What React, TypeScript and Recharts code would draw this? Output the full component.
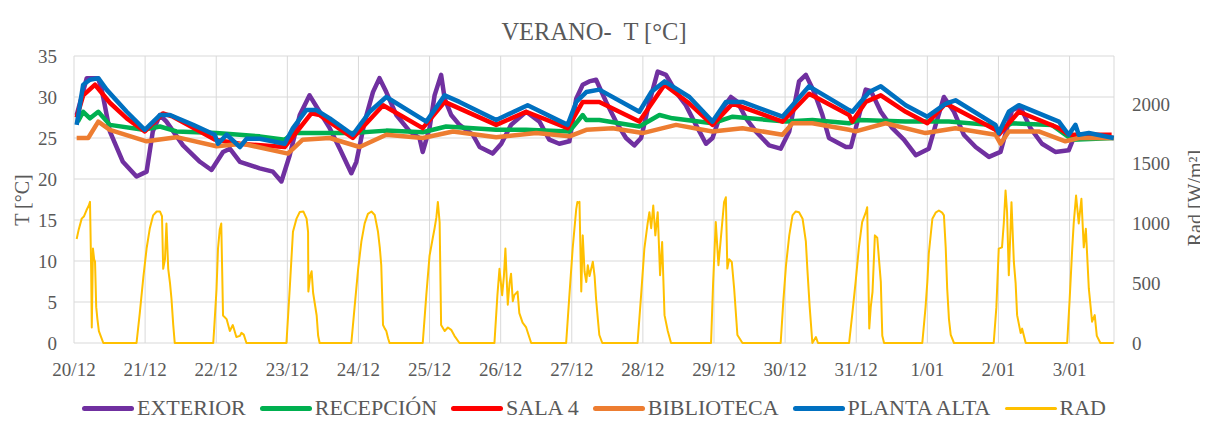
import React from 'react';
import { LineChart, Line, XAxis, YAxis, CartesianGrid } from 'recharts';

// hours since 20/12 00:00 -> value
const dayTicks = [0, 24, 48, 72, 96, 120, 144, 168, 192, 216, 240, 264, 288, 312, 336];
const dayLabels = ['20/12', '21/12', '22/12', '23/12', '24/12', '25/12', '26/12', '27/12', '28/12', '29/12', '30/12', '31/12', '1/01', '2/01', '3/01'];
const tempTicks = [0, 5, 10, 15, 20, 25, 30, 35];
const radTicks = [0, 500, 1000, 1500, 2000];

const exterior: [number, number][] = [
  [0.9, 27.8], [4.3, 32.3], [8.1, 32.3], [9.3, 31], [12.1, 25.8], [16.5, 22.1], [21.1, 20.3], [24.5, 20.9],
  [26.6, 25.8], [29, 27.8], [31.2, 27], [36.8, 24.1], [42.5, 22.1], [46.4, 21.1], [50.3, 23.3], [52.6, 23.7],
  [56, 22.1], [62.7, 21.3], [67.1, 20.9], [70, 19.7], [72.8, 22.9], [76.2, 27.8], [79.5, 30.2], [82.9, 28.2],
  [86.3, 26.2], [89.7, 23.7], [93.6, 20.7], [95.3, 22.1], [98.1, 27], [100.9, 30.6], [103.1, 32.3], [105.4, 30.6],
  [108.8, 27.8], [113.3, 25.8], [116.6, 25], [117.7, 23.3], [120, 26.2], [121.7, 30.2], [123.9, 32.7], [125.1, 29.8],
  [127.3, 27.8], [130.1, 26.6], [134.6, 25.4], [136.9, 23.9], [141.3, 23.1], [144.2, 24.3], [147.5, 26.6], [152.6, 28.2],
  [157.1, 27], [160.4, 24.8], [163.8, 24.3], [167.2, 24.6], [169.5, 29.8], [171.7, 31.5], [173.9, 31.9], [176.2, 32.1],
  [179.6, 29.4], [182.9, 27], [186.3, 25], [189.1, 24.1], [191.4, 25], [194.2, 29.4], [197, 33.1], [199.8, 32.7],
  [203.2, 30.6], [206.5, 29], [209.9, 26.6], [213.3, 24.3], [215.5, 25], [218.9, 28.6], [221.7, 30], [223.9, 29.4],
  [226.8, 27.4], [230.1, 25.8], [234.6, 24.1], [238.5, 23.7], [241.4, 25.8], [244.7, 31.9], [247, 32.7], [249.8, 30.6],
  [252.6, 27.8], [254.8, 25], [260.5, 23.9], [262.2, 23.9], [265, 27.8], [267.2, 30.9], [269, 30.7], [272.3, 28.2],
  [276.2, 26.2], [280.1, 24.8], [284.1, 22.9], [288.5, 23.7], [290.8, 26.6], [293.6, 30], [297, 28.2], [300.3, 25.4],
  [304.3, 23.9], [308.8, 22.7], [312.7, 23.3], [314.9, 26.2], [316.6, 28.4], [319.4, 28.8], [322.8, 26.2], [326.7, 24.3],
  [331.2, 23.3], [335.7, 23.5], [337.4, 25], [342.5, 25.3], [350.9, 25],
];

const recepcion: [number, number][] = [
  [1.3, 27], [3.1, 28.2], [5.4, 27.4], [8.2, 28.2], [12.1, 26.6], [23.4, 26], [29, 26.4], [34.6, 25.8],
  [48.1, 25.6], [62.7, 25.2], [71.1, 24.8], [73.9, 25.6], [82.9, 25.6], [94.1, 25.6], [105.4, 25.9], [117.7, 25.7],
  [125.6, 26.4], [142.5, 26], [152.6, 26], [167.2, 25.8], [171.7, 27.8], [172.9, 27.2], [177.3, 27.2], [190.8, 26.4],
  [197.6, 27.8], [202, 27.4], [215.5, 26.8], [222.3, 27.6], [240.3, 27], [249.2, 27.2], [261.6, 26.8], [265, 27.2],
  [280.7, 27], [295.3, 27], [308.8, 26.6], [312.1, 26], [316.6, 26.8], [330, 26.6], [336.9, 24.8], [350.9, 25],
];

const sala4: [number, number][] = [
  [0.9, 27.5], [3.1, 30.2], [7.1, 31.5], [12.1, 29.3], [17.8, 27.4], [23.9, 25.8], [30, 28], [33.4, 27.6],
  [47.5, 24.8], [56, 24.3], [71.1, 23.9], [80.1, 28], [82.9, 27.8], [94.1, 25], [104.3, 29], [117.7, 26.2],
  [125.1, 29.4], [142.5, 26.6], [152.6, 28.2], [166.6, 26.2], [171.7, 29.4], [177.3, 29.4], [190.8, 27], [199.3, 31.5],
  [207.7, 29.2], [215.5, 26.6], [222.3, 29.2], [239.1, 27], [248.1, 30.4], [261.6, 27.8], [262.7, 27], [267.2, 29.4],
  [272.3, 30.2], [280.7, 28.2], [288, 26.8], [294.2, 29.2], [311, 26], [312.1, 25.4], [318.9, 28.2], [332.4, 26.2],
  [335.7, 25.4], [350.2, 25.4],
];

const biblioteca: [number, number][] = [
  [0.9, 25], [4.8, 25], [8.2, 27], [12.1, 26], [24.5, 24.6], [34.6, 25.1], [48.1, 24], [57, 24.3],
  [72.2, 23.1], [77.2, 24.8], [86.3, 25], [96.4, 23.9], [105.4, 25.4], [117.7, 25], [127.9, 25.8], [142.5, 25.1],
  [156, 25.6], [167.2, 25.2], [172.9, 26], [181.8, 26.2], [191.9, 25.6], [203.2, 26.6], [215.5, 25.8], [225.6, 26.2],
  [239.1, 25.4], [242.5, 26.8], [249.2, 26.8], [261.6, 26], [263.8, 25.8], [273.9, 26.8], [287.4, 25.6], [297.5, 26.2],
  [311, 25.4], [312.7, 24.3], [315.5, 25.8], [325.6, 25.8], [334.6, 24.6], [339.1, 25], [350.9, 25],
];

const plantaAlta: [number, number][] = [
  [0.9, 26.6], [3.1, 31.5], [5.4, 32.1], [8.2, 32.3], [11, 30.9], [17.8, 28.2], [23.9, 26], [29, 27.8],
  [32.4, 27.8], [40.2, 26.6], [47.5, 25.4], [48.6, 24.3], [51.5, 25.4], [56, 23.9], [58.2, 24.9], [62.7, 24.9],
  [71.1, 24.3], [73.9, 26.2], [78.4, 28.4], [81.8, 28.4], [86.3, 27.4], [94.1, 25.4], [99.8, 28.2], [105.4, 30],
  [118.9, 27], [125.1, 30.2], [130.1, 29.4], [142.5, 27.2], [153.1, 29], [166.6, 26.6], [169.5, 29.4], [172.9, 30.6],
  [177.3, 30.9], [190.8, 28.2], [194.8, 30.6], [199.3, 31.9], [207.7, 30], [215.5, 27], [220, 29.4], [225.6, 29.4],
  [239.1, 27.6], [248.1, 31.3], [261.6, 28.4], [262.7, 28.2], [268.4, 30.6], [272.3, 31.3], [280.7, 29], [288, 27.6],
  [294.2, 29.2], [297.5, 29.6], [311, 26.6], [312.1, 25.6], [315.5, 28.2], [318.9, 29], [332.4, 27], [335.7, 25.4],
  [338, 26.6], [339.1, 25.4], [342.5, 25.6], [350.9, 25],
];

const rad: [number, number][] = [
  [0.9, 870], [1.6, 950], [2.6, 1040], [3.4, 1060], [4.2, 1110], [5, 1150], [5.4, 1180], [5.8, 600], [6, 130],
  [6.4, 790], [6.8, 700], [7.1, 680], [7.5, 300], [7.9, 200], [8.4, 100], [9, 60], [9.9, 0],
  [21.1, 0], [22.2, 250], [23.4, 550], [24.5, 790], [25.6, 960], [26.7, 1067], [27.9, 1100], [29, 1100], [29.7, 1060],
  [30.1, 620], [30.7, 700], [31.2, 1000], [31.8, 620], [32.4, 500], [32.9, 370], [33.5, 150], [34, 0],
  [47, 0], [47.5, 200], [48.1, 450], [48.6, 790], [49.2, 950], [49.7, 1000], [50.3, 230], [51.5, 200], [52.6, 100],
  [53.6, 150], [54.8, 50], [56, 60], [56.5, 85], [57.3, 70], [58.2, 0],
  [71.7, 0], [72.8, 450], [73.9, 930], [75.1, 1040], [76.2, 1095], [77.4, 1100], [78.5, 1040], [79, 930], [79.1, 430],
  [79.7, 560], [80.2, 600], [80.7, 420], [81.9, 230], [82.4, 60], [82.9, 0],
  [93.6, 0], [94.7, 300], [95.9, 620], [97, 850], [98.1, 1000], [99.2, 1080], [100.4, 1100], [101.5, 1070], [102.6, 930],
  [103.2, 800], [103.7, 650], [104.3, 150], [104.9, 120], [105.4, 100], [106, 40], [106.5, 0],
  [117.7, 0], [118.9, 400], [120, 730], [121.1, 880], [121.7, 960], [122.3, 1050], [122.8, 1180], [123.4, 1010], [123.9, 150],
  [125.1, 100], [126.2, 130], [127.3, 110], [128.4, 60], [130.1, 0],
  [141.9, 0], [142.9, 400], [143.6, 620], [144.5, 400], [145.1, 560], [145.6, 790], [146.4, 320], [147, 500], [147.5, 580],
  [148.1, 350], [148.6, 400], [149.7, 430], [150.3, 250], [151.4, 170], [152.6, 130], [154.3, 0],
  [166.1, 0], [167.2, 400], [168.3, 790], [169.5, 1120], [169.9, 1180], [170.4, 1170], [170.6, 1180], [171.2, 430],
  [171.7, 900], [172.3, 600], [172.9, 510], [173.4, 650], [174, 560], [175.1, 680], [175.7, 560], [176.2, 370],
  [176.8, 200], [177.3, 67], [178.3, 0],
  [190.2, 0], [191.4, 400], [192.5, 790], [193.6, 1000], [194.2, 1094], [194.8, 960], [195.5, 1150], [196.2, 900],
  [197, 1094], [197.8, 567], [198.5, 844], [199.3, 233], [200.4, 100], [201.5, 0],
  [215, 0], [215.7, 500], [216.6, 1011], [217.5, 650], [218.6, 956], [219.4, 1178], [220, 1219], [220.5, 622],
  [221.1, 700], [222, 678], [222.8, 456], [223.9, 67], [225.6, 0],
  [238.5, 0], [239.4, 350], [240.3, 650], [241.4, 900], [242.5, 1067], [243.6, 1100], [244.7, 1094], [245.9, 1039],
  [247, 850], [247.5, 622], [248.3, 300], [249.2, 0], [250.4, 50], [251.1, 0],
  [261.6, 0], [262.7, 250], [263.8, 511], [264.9, 800], [266, 1011], [267.2, 1090], [267.7, 1136], [268.4, 122],
  [268.9, 300], [269.5, 428], [270.3, 900], [271.1, 880], [272.3, 511], [272.8, 60], [273.4, 0],
  [286.3, 0], [287.4, 300], [288, 511], [288.5, 750], [289.7, 1039], [290.8, 1090], [291.9, 1108], [293, 1090],
  [293.6, 1067], [294.2, 800], [294.7, 456], [295.3, 200], [295.9, 67], [297, 0],
  [310.4, 0], [311.3, 300], [312.1, 789], [313.2, 800], [313.8, 1000], [314.4, 1275], [314.9, 1100], [315.5, 567],
  [316.4, 1178], [317.2, 678], [317.8, 500], [318.3, 233], [319.5, 83], [320, 120], [321.2, 0],
  [335.2, 0], [336, 350], [336.9, 789], [337.4, 1000], [338.2, 1233], [339.1, 1000], [340, 1206], [340.8, 800],
  [341.5, 956], [342.5, 456], [343.6, 178], [344.5, 233], [345.2, 60], [346.4, 0], [350.9, 0],
];

const toRows = (pts: [number, number][]) => pts.map(([h, v]) => ({ h, v }));

const series = [
  { name: 'EXTERIOR', color: '#7030A0', pts: exterior, axis: 't', width: 4.5 },
  { name: 'RECEPCIÓN', color: '#00B050', pts: recepcion, axis: 't', width: 4.5 },
  { name: 'SALA 4', color: '#FF0000', pts: sala4, axis: 't', width: 4.5 },
  { name: 'BIBLIOTECA', color: '#ED7D31', pts: biblioteca, axis: 't', width: 4.5 },
  { name: 'PLANTA ALTA', color: '#0070C0', pts: plantaAlta, axis: 't', width: 4.5 },
  { name: 'RAD', color: '#FFC000', pts: rad, axis: 'r', width: 2 },
];

const font = '"Liberation Serif", "Times New Roman", serif';
const textColor = '#595959';
const tickStyle = { fontFamily: font, fontSize: 19, fill: textColor };

export default function App() {
  return (
    <div
      style={{
        position: 'relative',
        width: 1195,
        height: 420,
        margin: '-1px 0 0 -1px',
        border: '1px solid #d9d9d9',
        background: '#fff',
        fontFamily: font,
        color: textColor,
      }}
    >
      <style>{'html, body { overflow: hidden; }'}</style>
      <div style={{ position: 'absolute', left: 66, width: 1040, top: 10, textAlign: 'center', fontSize: 24.5, lineHeight: '28px' }}>
        VERANO-&nbsp; T [°C]
      </div>
      <div
        style={{
          position: 'absolute', left: 14 - 50, top: 192 - 12, width: 100, height: 24, lineHeight: '24px',
          textAlign: 'center', fontSize: 20, transform: 'rotate(-90deg)',
        }}
      >
        T [°C]
      </div>
      <div
        style={{
          position: 'absolute', left: 1187 - 60, top: 190 - 12, width: 120, height: 24, lineHeight: '24px',
          textAlign: 'center', fontSize: 20, transform: 'rotate(-90deg)', whiteSpace: 'nowrap',
        }}
      >
        Rad [W/m²]
      </div>
      <LineChart width={1195} height={420} margin={{ top: 48, right: 0, bottom: 55, left: 0 }}>
        <CartesianGrid stroke="#d9d9d9" yAxisId="t" />
        <XAxis
          dataKey="h"
          type="number"
          domain={[0, 351]}
          ticks={dayTicks}
          tickFormatter={(v: number) => dayLabels[dayTicks.indexOf(v)] ?? ''}
          axisLine={false}
          tickLine={false}
          tickMargin={14}
          tick={tickStyle}
          height={30}
          allowDataOverflow
          interval={0}
        />
        <YAxis
          yAxisId="t"
          domain={[0, 35]}
          ticks={tempTicks}
          axisLine={false}
          tickLine={false}
          tickMargin={11}
          tick={tickStyle}
          width={66}
          interval={0}
        />
        <YAxis
          yAxisId="r"
          orientation="right"
          domain={[0, 2400]}
          ticks={radTicks}
          axisLine={false}
          tickLine={false}
          tickMargin={12}
          tick={tickStyle}
          width={89}
          interval={0}
        />
        {series.map((s) => (
          <Line
            key={s.name}
            data={toRows(s.pts)}
            dataKey="v"
            name={s.name}
            yAxisId={s.axis}
            type="linear"
            stroke={s.color}
            strokeWidth={s.width}
            strokeLinejoin="round"
            dot={false}
            activeDot={false}
            isAnimationActive={false}
          />
        ))}
      </LineChart>
      <div
        style={{
          position: 'absolute', left: 46, width: 1080, top: 388, display: 'flex', justifyContent: 'center',
          alignItems: 'center', fontSize: 22, lineHeight: '24px', whiteSpace: 'nowrap',
        }}
      >
        {series.map((s) => (
          <div key={s.name} style={{ display: 'flex', alignItems: 'center', margin: '0 7px' }}>
            <span
              style={{
                display: 'inline-block', width: 52, height: s.name === 'RAD' ? 3 : 5, borderRadius: 3,
                background: s.color, marginRight: 3,
              }}
            />
            <span>{s.name}</span>
          </div>
        ))}
      </div>
    </div>
  );
}
